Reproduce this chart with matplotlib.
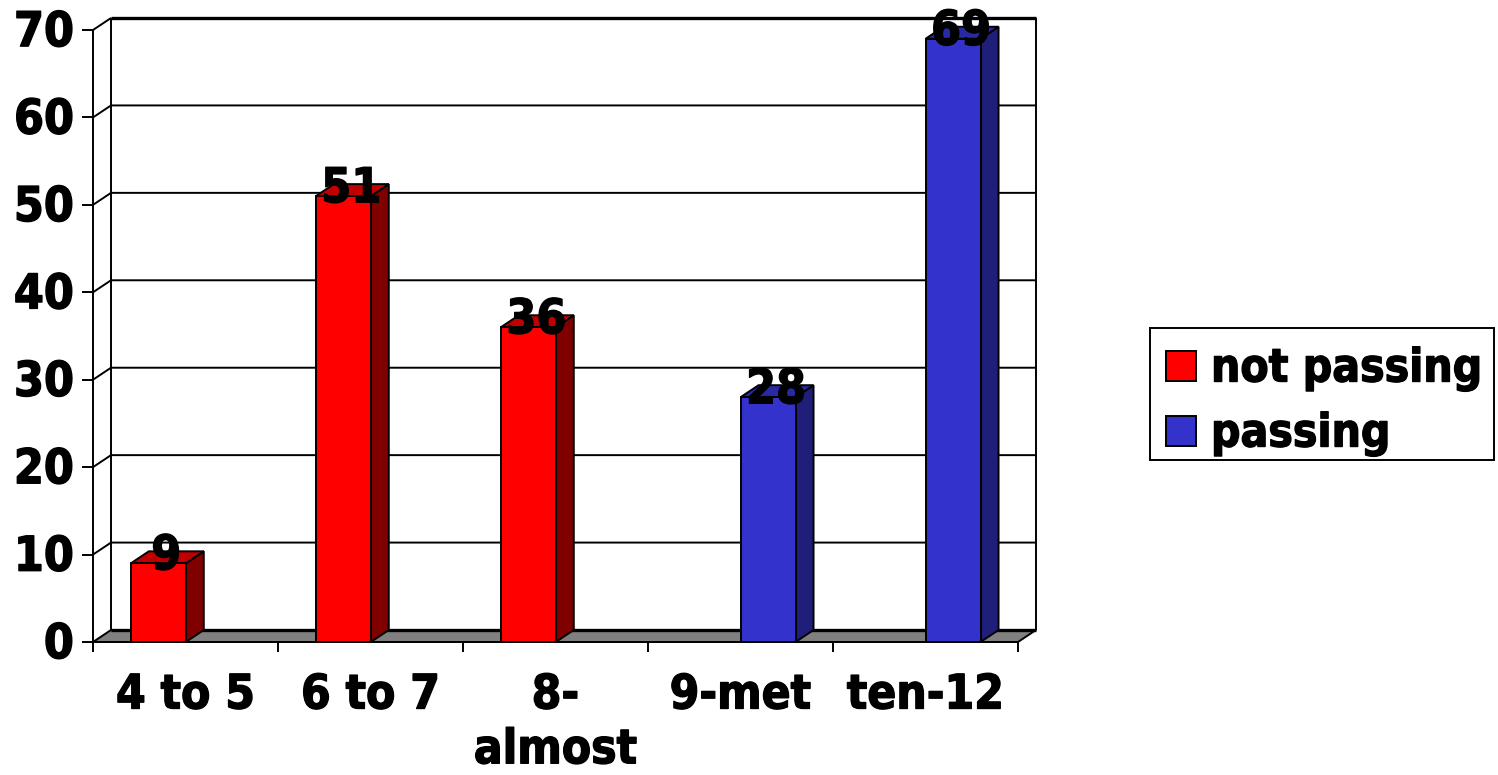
import matplotlib
matplotlib.use("Agg")
import matplotlib.pyplot as plt
import matplotlib.patheffects as pe
from matplotlib.patches import Polygon, Rectangle

categories = ["4 to 5", "6 to 7", "8-\nalmost", "9-met", "ten-12"]
series_names = ["not passing", "passing"]
not_passing = [9, 51, 36, None, None]
passing = [None, None, None, 28, 69]
y_ticks = [0, 10, 20, 30, 40, 50, 60, 70]

W, H = 1498, 775
X0, X1, Y0, Y1 = 93, 1018, 642, 30
DX_PX, DY_PX = 18, 12
plt.rcParams["font.family"] = ["DejaVu Sans"]
plt.rcParams["lines.solid_capstyle"] = "butt"
TXT = dict(fontweight="bold", stretch="condensed", color="black", clip_on=False,
           path_effects=[pe.withStroke(linewidth=1.0, foreground="black")])
FS = 34.5

fig = plt.figure(figsize=(W / 100, H / 100), dpi=100, facecolor="white")
ax = fig.add_axes([X0 / W, 1 - Y0 / H, (X1 - X0) / W, (Y0 - Y1) / H])
ax.set_xlim(0, len(categories))
ax.set_ylim(0, 70)
ax.axis("off")

dx = DX_PX / ((X1 - X0) / len(categories))
dy = DY_PX / ((Y0 - Y1) / 70)
n = len(categories)
ink = "black"
lw = 1.4

# floor
ax.add_patch(Polygon([(0, 0), (n, 0), (n + dx, dy), (dx, dy)], closed=True,
                     fc="#808080", ec=ink, lw=lw, clip_on=False, zorder=1))
ax.plot([dx, n + dx], [dy, dy], color=ink, lw=2.4, clip_on=False, zorder=1)
# back wall and gridlines
ax.plot([dx, dx], [dy, 70 + dy], color=ink, lw=lw, clip_on=False, zorder=1)
ax.plot([n + dx, n + dx], [dy, 70 + dy], color=ink, lw=lw, clip_on=False, zorder=1)
ax.plot([dx, n + dx], [70 + dy, 70 + dy], color=ink, lw=2.4, clip_on=False, zorder=1)
for t in y_ticks[1:-1]:
    ax.plot([0, dx, n + dx], [t, t + dy, t + dy], color=ink, lw=lw, clip_on=False, zorder=1)
ax.plot([0, dx], [70, 70 + dy], color=ink, lw=lw, clip_on=False, zorder=1)

# axes lines, ticks
ax.plot([0, 0], [0, 70], color=ink, lw=lw, clip_on=False, zorder=2)
ax.plot([0, n], [0, 0], color=ink, lw=lw, clip_on=False, zorder=2)
tick_y = 10 / ((Y0 - Y1) / 70)
tick_x = 11 / ((X1 - X0) / n)
for t in y_ticks:
    ax.plot([-tick_x, 0], [t, t], color=ink, lw=lw, clip_on=False, zorder=2)
    ax.text(-0.104, t - 0.3, str(t), ha="right", va="center", fontsize=FS, **TXT)
for i in range(n + 1):
    ax.plot([i, i], [0, -tick_y], color=ink, lw=lw, clip_on=False, zorder=2)
for i, c in enumerate(categories):
    ax.text(i + 0.5, -3.6, c, ha="center", va="top", fontsize=FS - 0.3, linespacing=1.28, **TXT)

BW = 0.297


def bar3d(xc, v, front, top, side):
    l, r = xc - BW / 2, xc + BW / 2
    ax.add_patch(Polygon([(r, 0), (r + dx, dy), (r + dx, v + dy), (r, v)], closed=True,
                         fc=side, ec=ink, lw=lw, zorder=3, clip_on=False))
    ax.add_patch(Polygon([(l, v), (r, v), (r + dx, v + dy), (l + dx, v + dy)], closed=True,
                         fc=top, ec=ink, lw=lw, zorder=3, clip_on=False))
    ax.add_patch(Rectangle((l, 0), BW, v, fc=front, ec=ink, lw=lw, zorder=4, clip_on=False))
    ax.text(xc + 0.043, v + 0.85, str(v), ha="center", va="center", fontsize=FS, zorder=5, **TXT)


for i, v in enumerate(not_passing):
    if v is not None:
        bar3d(i + 0.353, v, "#FF0000", "#C00000", "#800000")
for i, v in enumerate(passing):
    if v is not None:
        bar3d(i + 0.649, v, "#3333CC", "#2929A3", "#1F1F7A")

# legend
lg = fig.add_axes([0, 0, 1, 1], facecolor="none")
lg.set_xlim(0, W)
lg.set_ylim(H, 0)
lg.axis("off")
lg.add_patch(Rectangle((1150, 328), 344, 132, fc="white", ec=ink, lw=lw))
for name, col, yc in zip(series_names, ["#FF0000", "#3333CC"], [366, 431]):
    lg.add_patch(Rectangle((1166, yc - 15), 30, 30, fc=col, ec=ink, lw=lw))
    lg.text(1211, yc + 3, name, ha="left", va="center", fontsize=FS - 1.5, **TXT)

fig.savefig("out.png", dpi=100)
